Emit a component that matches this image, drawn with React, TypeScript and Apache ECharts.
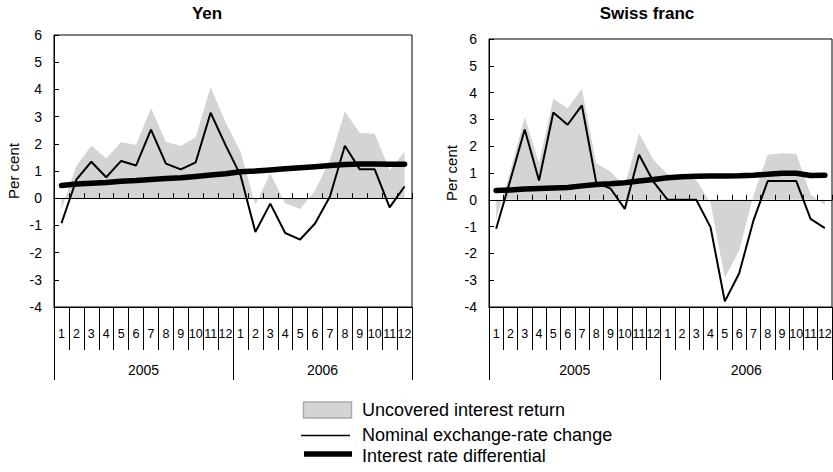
import React, { useEffect, useRef } from "react";
import * as echarts from "echarts";

const months = ["1","2","3","4","5","6","7","8","9","10","11","12","1","2","3","4","5","6","7","8","9","10","11","12"];
const years = ["2005", "2006"];
const yTicks = { min: -4, max: 6, interval: 1 };

const yenUncovered = [-0.42, 1.18, 1.94, 1.46, 2.07, 1.96, 3.32, 2.07, 1.92, 2.24, 4.09, 2.78, 1.72, -0.24, 0.91, -0.19, -0.4, 0.27, 1.4, 3.19, 2.4, 2.37, 1.03, 1.71];
const yenNominal = [-0.92, 0.68, 1.34, 0.77, 1.37, 1.2, 2.52, 1.27, 1.06, 1.32, 3.14, 1.95, 0.85, -1.24, -0.2, -1.28, -1.52, -0.93, 0.06, 1.93, 1.06, 1.06, -0.34, 0.43];
const yenDifferential = [0.47, 0.52, 0.55, 0.58, 0.62, 0.65, 0.69, 0.72, 0.75, 0.8, 0.85, 0.9, 0.97, 1.0, 1.04, 1.08, 1.12, 1.16, 1.2, 1.24, 1.26, 1.26, 1.25, 1.25];

const chfUncovered = [-0.75, 1.1, 3.08, 1.37, 3.77, 3.42, 4.14, 1.35, 1.06, 0.5, 2.47, 1.49, 0.95, 0.82, 0.75, -0.12, -2.92, -1.9, 0.15, 1.68, 1.74, 1.72, 0.2, -0.19];
const chfNominal = [-1.08, 0.75, 2.62, 0.72, 3.26, 2.8, 3.52, 0.65, 0.42, -0.34, 1.68, 0.68, 0, 0, 0, -1.02, -3.79, -2.75, -0.78, 0.7, 0.7, 0.7, -0.71, -1.06];
const chfDifferential = [0.35, 0.37, 0.4, 0.42, 0.44, 0.46, 0.52, 0.57, 0.6, 0.64, 0.7, 0.76, 0.82, 0.86, 0.88, 0.89, 0.89, 0.9, 0.92, 0.95, 0.99, 0.99, 0.91, 0.92];

const titles = ["Yen", "Swiss franc"];
const legendNames = ["Uncovered interest return", "Nominal exchange-rate change", "Interest rate differential"];

const SANS = "'Liberation Sans', Arial, Helvetica, sans-serif";
const GRAY = "#d4d4d4";

function xAxesFor(g: number) {
  const line = { color: "#000", width: 1 };
  return [
    {
      gridIndex: g, type: "category", data: months, boundaryGap: true, position: "bottom", z: 5,
      axisLine: { show: true, onZero: true, lineStyle: line },
      axisTick: { show: true, inside: true, length: 5, interval: 0, lineStyle: line },
      axisLabel: { show: false },
      splitLine: { show: false },
    },
    {
      gridIndex: g, type: "category", data: months, boundaryGap: true, position: "bottom",
      axisLine: { show: true, onZero: false, lineStyle: line },
      axisTick: { show: true, inside: false, length: 43, interval: 0, lineStyle: line },
      axisLabel: { show: true, interval: 0, margin: 20, fontSize: 12.5, color: "#000", fontFamily: SANS, hideOverlap: false },
      splitLine: { show: false },
    },
    {
      gridIndex: g, type: "category", data: years, boundaryGap: true, position: "bottom",
      axisLine: { show: true, onZero: false, lineStyle: line },
      axisTick: { show: true, inside: false, length: 73, interval: 0, lineStyle: line },
      axisLabel: { show: true, interval: 0, margin: 56, fontSize: 14, color: "#000", fontFamily: SANS },
      splitLine: { show: false },
    },
  ];
}

function yAxisFor(g: number, gap: number) {
  return {
    gridIndex: g, type: "value", min: yTicks.min, max: yTicks.max, interval: yTicks.interval,
    name: "Per cent", nameLocation: "middle", nameRotate: 90, nameGap: gap,
    nameTextStyle: { fontSize: 15, color: "#000", fontFamily: SANS },
    axisLine: { show: true, lineStyle: { color: "#000", width: 1 } },
    axisTick: { show: true, inside: true, length: 5, lineStyle: { color: "#000" } },
    axisLabel: { margin: 12, fontSize: 14, color: "#000", fontFamily: SANS },
    splitLine: { show: false },
  };
}

function seriesFor(xi: number, yi: number, unc: number[], nom: number[], dif: number[]) {
  return [
    {
      name: legendNames[0], type: "line", xAxisIndex: xi, yAxisIndex: yi, data: unc,
      symbol: "none", silent: true, z: 1,
      lineStyle: { width: 0, color: GRAY }, areaStyle: { color: GRAY, opacity: 1 },
    },
    {
      name: legendNames[2], type: "line", xAxisIndex: xi, yAxisIndex: yi, data: dif,
      symbol: "none", silent: true, z: 3,
      lineStyle: { width: 5.5, color: "#000", cap: "round" },
    },
    {
      name: legendNames[1], type: "line", xAxisIndex: xi, yAxisIndex: yi, data: nom,
      symbol: "none", silent: true, z: 4,
      lineStyle: { width: 2, color: "#000" },
    },
  ];
}

export default function App() {
  const ref = useRef<HTMLDivElement>(null);
  useEffect(() => {
    if (!ref.current) return;
    const chart = echarts.init(ref.current, undefined, { renderer: "svg" });
    const legendX = 362;
    chart.setOption({
      animation: false,
      backgroundColor: "#fff",
      grid: [
        { left: 54, top: 35, width: 358, height: 272, show: true, borderColor: "#000", borderWidth: 1, containLabel: false, outerBoundsMode: "none" },
        { left: 489, top: 39, width: 343, height: 268, show: true, borderColor: "#000", borderWidth: 1, containLabel: false, outerBoundsMode: "none" },
      ],
      xAxis: [...xAxesFor(0), ...xAxesFor(1)],
      yAxis: [yAxisFor(0, 33), yAxisFor(1, 30)],
      series: [
        ...seriesFor(0, 0, yenUncovered, yenNominal, yenDifferential),
        ...seriesFor(3, 1, chfUncovered, chfNominal, chfDifferential),
      ],
      graphic: [
        { type: "text", x: 207, y: 13, style: { text: titles[0], font: `bold 17px ${SANS}`, fill: "#000", align: "center", verticalAlign: "middle" } },
        { type: "text", x: 647, y: 13, style: { text: titles[1], font: `bold 17px ${SANS}`, fill: "#000", align: "center", verticalAlign: "middle" } },
        { type: "rect", shape: { x: 303.5, y: 402, width: 48, height: 16 }, style: { fill: GRAY, stroke: "#aaa", lineWidth: 1.5 } },
        { type: "line", shape: { x1: 301, y1: 435.5, x2: 350, y2: 435.5 }, style: { stroke: "#000", lineWidth: 1.5 } },
        { type: "line", shape: { x1: 304, y1: 454, x2: 352, y2: 454 }, style: { stroke: "#000", lineWidth: 5.5 } },
        { type: "text", x: legendX, y: 410, style: { text: legendNames[0], font: `18px ${SANS}`, fill: "#000", verticalAlign: "middle" } },
        { type: "text", x: legendX, y: 435, style: { text: legendNames[1], font: `18px ${SANS}`, fill: "#000", verticalAlign: "middle" } },
        { type: "text", x: legendX, y: 456, style: { text: legendNames[2], font: `18px ${SANS}`, fill: "#000", verticalAlign: "middle" } },
      ],
    });
    return () => chart.dispose();
  }, []);
  return <div ref={ref} style={{ position: "fixed", left: 0, top: 0, width: 833, height: 472 }} />;
}
